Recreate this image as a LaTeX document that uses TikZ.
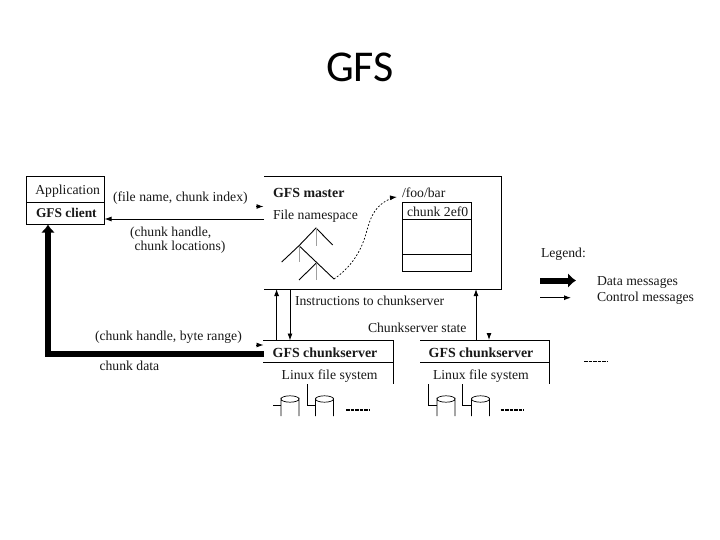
\documentclass[tikz,border=0pt]{standalone}
\usepackage{fontspec}
\setmainfont{Liberation Serif}
\newfontfamily\titlefont{Carlito}
\usetikzlibrary{arrows.meta}
\definecolor{ink}{gray}{0.1}
\tikzset{
  lbl/.style={anchor=base west,inner sep=0pt,outer sep=0pt,text=ink,font=\fontsize{13.7}{15}\selectfont},
  blbl/.style={lbl,font=\bfseries\fontsize{13.9}{15}\selectfont},
  ln/.style={draw=black,line width=0.9pt},
  ctl/.style={ln,-{Latex[length=7pt,width=5pt]}},
  tipx/.style={ln,draw=black,-{Latex[length=7pt,width=5pt]}},
  thickarrow/.style={draw=black,line width=5.5pt,-{Latex[length=8pt,width=14pt]}},
  grayln/.style={draw=gray!75,line width=1pt},
  dots/.style={draw=black,line width=0.7pt,dash pattern=on 1.8pt off 1.8pt},
  morebar/.style={draw=black,line width=1.2pt,dash pattern=on 3.5pt off 1pt},
  disk/.style={draw=black,line width=0.7pt}
}
\newcommand{\diskat}[2]{%
  \draw[disk] (#1,#2+20) -- (#1,#2+3) arc[start angle=180,end angle=0,x radius=9,y radius=3.2] -- ++(0,17);
  \draw[disk] (#1,#2+3) arc[start angle=180,end angle=360,x radius=9,y radius=3.2];
}
\begin{document}
\begin{tikzpicture}[x=1pt,y=-1pt]
\useasboundingbox[fill=white] (0,0) rectangle (720,540);
\node[anchor=base,inner sep=0pt,text=black,font=\titlefont\fontsize{44}{48}\selectfont] (title) at (360,82) {GFS};

% client box
\coordinate (appTL) at (26.5,176.5);
\coordinate (appBR) at (104.5,224);
\coordinate (appDL) at (26.5,202.5);
\coordinate (appDR) at (104.5,202.5);
\draw[ln] (appTL) rectangle (appBR);
\draw[ln] (appDL) -- (appDR);
\node[lbl] (application) at (35.3,194.3) {Application};
\node[blbl,font=\bfseries\fontsize{13.4}{15}\selectfont] (gfsclient) at (36,218) {GFS client};

% master box (left side open)
\coordinate (mTL) at (264,176.5);
\coordinate (mTR) at (501.5,176.5);
\coordinate (mBR) at (501.5,289);
\coordinate (mBL) at (264,289);
\draw[ln] (mTL) -- (mTR) -- (mBR) -- (mBL);
\node[blbl] (master) at (273,197.7) {GFS master};
\node[lbl] (ns) at (273,219) {File namespace};
\node[lbl] (foobar) at (402,197.7) {/foo/bar};

% chunk table
\coordinate (tTL) at (402.7,202.3);
\coordinate (tBR) at (471.7,271.7);
\draw[ln] (tTL) rectangle (tBR);
\draw[ln] (402.7,219.3) -- (471.7,219.3);
\draw[ln] (402.7,254.3) -- (471.7,254.3);
\node[lbl] (chunk) at (407,216) {chunk 2ef0};

% namespace tree
\coordinate (a1) at (316,228);
\coordinate (a2) at (299,245.7);
\coordinate (a3) at (316,263.3);
\coordinate (leafA) at (281.7,262);
\coordinate (leafB) at (332.7,245);
\coordinate (leafC) at (334,279);
\coordinate (leafD) at (299,280);
\draw[ln] (leafA) -- (a2) -- (a1) -- (leafB);
\draw[ln] (a2) -- (leafC);
\draw[ln] (leafD) -- (a3);
\draw[grayln] (a1) -- (316,245.7);
\draw[grayln] (a2) -- (299,262);
\draw[grayln] (a3) -- (316,280);

% dotted link
\coordinate (dotEnd) at (397,197);
\draw[dots] (leafC) .. controls (350,268) and (359,254) .. (364,240)
  .. controls (369,226) and (370,207) .. (391,198.5);
\draw[ln,-{Latex[length=7pt,width=5pt]}] (390,197.8) -- (dotEnd);

% client <-> master
\coordinate (hd1a) at (256,206.5);
\coordinate (hd1b) at (263.5,206.5);
\draw[tipx] (hd1a) -- (hd1b);
\coordinate (mLeft) at (264,219);
\draw[ctl] (mLeft) -- (appBR |- mLeft);
\node[lbl] (req) at (113,201.7) {(file name, chunk index)};
\node[lbl] (rep1) at (130,236.7) {(chunk handle,};
\node[lbl] (rep2) at (134.5,250) {chunk locations)};

% chunkserver 1
\coordinate (c1TL) at (263,340.5);
\coordinate (c1TR) at (393,340.5);
\coordinate (c1BR) at (393,384);
\draw[ln] (c1TL) -- (c1TR) -- (c1BR);
\draw[ln] (263,362) -- (393,362);
\node[blbl] (cs1) at (272.7,357.3) {GFS chunkserver};
\node[lbl] (fs1) at (281.7,379.3) {Linux file system};

% chunkserver 2
\coordinate (c2TL) at (420,340.5);
\coordinate (c2TR) at (549,340.5);
\coordinate (c2BR) at (549,384);
\draw[ln] (c2TL) -- (c2TR) -- (c2BR);
\draw[ln] (420,362) -- (549,362);
\node[blbl] (cs2) at (428.7,357.3) {GFS chunkserver};
\node[lbl] (fs2) at (433,379.3) {Linux file system};

% data and control paths
\coordinate (dataStart) at (264,354);
\coordinate (dataCorner) at (48,354);
\coordinate (dataEnd) at (48,224.5);
\draw[thickarrow] (dataStart) -- (dataCorner) -- (dataEnd);
\coordinate (hd2a) at (256,345);
\coordinate (hd2b) at (263.5,345);
\draw[tipx] (hd2a) -- (hd2b);
\node[lbl] (byte) at (95,340.5) {(chunk handle, byte range)};
\node[lbl] (data) at (99.5,370.7) {chunk data};

\coordinate (u1a) at (276.6,340.5);
\coordinate (u1b) at (276.6,289);
\draw[ctl] (u1a) -- (u1b);
\coordinate (d1a) at (290,289);
\coordinate (d1b) at (290,340.5);
\draw[ctl] (d1a) -- (d1b);
\coordinate (u2a) at (476,340.5);
\coordinate (u2b) at (476,289);
\draw[ctl] (u2a) -- (u2b);
\coordinate (hd3a) at (489,333);
\coordinate (hd3b) at (489,340);
\draw[tipx] (hd3a) -- (hd3b);
\node[lbl] (instr) at (295,305.5) {Instructions to chunkserver};
\node[lbl] (state) at (368,332) {Chunkserver state};

% disks
\draw[ln,line width=0.7pt] (273,405.7) -- (281,405.7);
\draw[ln,line width=0.7pt] (307.7,384) -- (307.7,405.7) -- (315,405.7);
\draw[ln,line width=0.7pt] (428,384) -- (428,405.7) -- (436.7,405.7);
\draw[ln,line width=0.7pt] (462.3,384) -- (462.3,405.7) -- (471.7,405.7);
\diskat{281}{396}
\diskat{315.5}{396}
\diskat{437}{396}
\diskat{471.5}{396}
\draw[morebar] (346,410) -- (369,410);
\draw[morebar] (500.7,410) -- (524,410);
\draw[morebar] (584,361.7) -- (606.7,361.7);

% legend
\node[lbl] (legend) at (541,258) {Legend:};
\coordinate (l1a) at (540,280.5);
\coordinate (l1b) at (576,280.5);
\draw[draw=black,line width=6pt,-{Latex[length=8pt,width=15pt]}] (l1a) -- (l1b);
\coordinate (l2a) at (540,297.7);
\coordinate (l2b) at (571,297.7);
\draw[ctl] (l2a) -- (l2b);
\node[lbl] (ldata) at (597,285) {Data messages};
\node[lbl] (lctl) at (597,301.5) {Control messages};
\end{tikzpicture}
\end{document}
